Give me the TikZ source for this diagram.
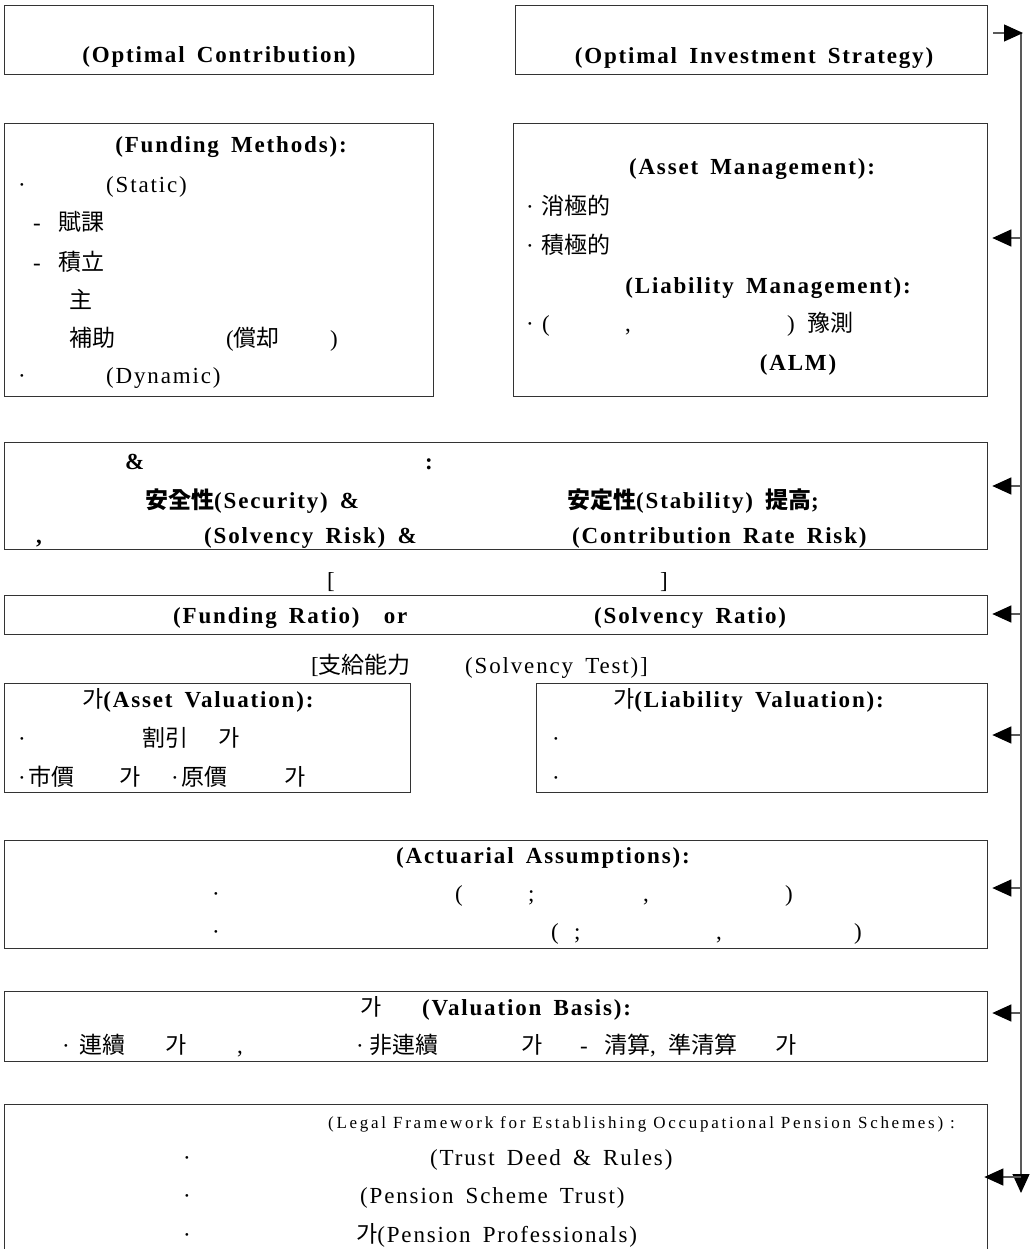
\documentclass[tikz,border=0pt]{standalone}
\usepackage{fontspec}
\setmainfont{Liberation Serif}[LetterSpace=8,WordSpace=1.6]
\newfontfamily\lsfont{Liberation Serif}[LetterSpace=16]
\newfontfamily\cjkfont{Noto Sans CJK KR}
\newcommand{\K}[1]{{\cjkfont\mdseries #1}}
\newcommand{\KB}[1]{{\cjkfont\bfseries #1}}
\newcommand{\fsz}{\fontsize{23pt}{27pt}\selectfont}
\newcommand{\fsm}{\fontsize{17pt}{20pt}\selectfont}
\usetikzlibrary{arrows.meta}
\tikzset{
  box/.style={draw=black!80, line width=1.3pt, inner sep=0pt, anchor=north west},
  t/.style={anchor=base west, inner sep=0pt, font=\fsz},
  tb/.style={t, font=\fsz\bfseries},
  tbc/.style={tb, anchor=base},
  tsm/.style={anchor=base west, inner sep=0pt, font=\fsm\lsfont},
  link/.style={draw=black!65, line width=1.2pt},
  arr/.style={link, -{Triangle[length=19pt,width=17pt,color=black]}},
}
\begin{document}
\begin{tikzpicture}[x=1pt,y=-1pt]
\useasboundingbox (0,0) rectangle (1029,1249);
% boxes
\node[box, minimum width=429pt, minimum height=69pt] (b1) at (4,5) {};
\node[box, minimum width=472pt, minimum height=69pt] (b2) at (515,5) {};
\node[box, minimum width=429pt, minimum height=273pt] (b3) at (4,123) {};
\node[box, minimum width=474pt, minimum height=273pt] (b4) at (513,123) {};
\node[box, minimum width=983pt, minimum height=107pt] (b5) at (4,442) {};
\node[box, minimum width=983pt, minimum height=39pt] (b6) at (4,595) {};
\node[box, minimum width=406pt, minimum height=109pt] (b7) at (4,683) {};
\node[box, minimum width=451pt, minimum height=109pt] (b8) at (536,683) {};
\node[box, minimum width=983pt, minimum height=108pt] (b9) at (4,840) {};
\node[box, minimum width=983pt, minimum height=70pt] (b10) at (4,991) {};
\node[box, minimum width=983pt, minimum height=150pt] (b11) at (4,1104) {};

% box 1, 2
\node[tbc] (t1) at (219,63) {(Optimal Contribution)};
\node[tbc] (t2) at (754,64) {(Optimal Investment Strategy)};

% box 3
\node[tbc] (t3) at (231,153) {(Funding Methods):};
\node[t] (t4) at (18,193) {·};
\node[t] (t5) at (106,193) {(Static)};
\node[t] (t6) at (33,231) {-};
\node[t] (t7) at (58,231) {\K{賦課}};
\node[t] (t8) at (33,270) {-};
\node[t] (t9) at (58,270) {\K{積立}};
\node[t] (t10) at (69,308) {\K{主}};
\node[t] (t11) at (69,346) {\K{補助}};
\node[t] (t12) at (226,346) {(\K{償却}};
\node[t] (t13) at (330,346) {)};
\node[t] (t14) at (18,383) {·};
\node[t] (t15) at (106,383) {(Dynamic)};

% box 4
\node[tbc] (t16) at (752,175) {(Asset Management):};
\node[t] (t17) at (526,215) {·};
\node[t] (t18) at (541,215) {\K{消極的}};
\node[t] (t19) at (526,254) {·};
\node[t] (t20) at (541,254) {\K{積極的}};
\node[tbc] (t21) at (768,293) {(Liability Management):};
\node[t] (t22) at (526,331) {·};
\node[t] (t23) at (542,331) {(};
\node[t] (t24) at (625,331) {,};
\node[t] (t25) at (787,331) {)};
\node[t] (t26) at (807,331) {\K{豫測}};
\node[tbc] (t27) at (798,370) {(ALM)};

% box 5
\node[tb] (t28) at (125,469) {\&};
\node[tb] (t29) at (425,469) {:};
\node[tb] (t30) at (145,508) {\KB{安全性}(Security) \&};
\node[tb] (t31) at (567,508) {\KB{安定性}(Stability) \KB{提高};};
\node[tb] (t32) at (36,543) {,};
\node[tb] (t33) at (204,543) {(Solvency Risk) \&};
\node[tb] (t34) at (572,543) {(Contribution Rate Risk)};

% between 5 and 6
\node[t] (t35) at (327,588) {[};
\node[t] (t36) at (660,588) {]};

% box 6
\node[tb] (t37) at (173,623) {(Funding Ratio) \ or};
\node[tb] (t38) at (594,623) {(Solvency Ratio)};

% solvency test
\node[t] (t39) at (311,673) {[\K{支給能力}};
\node[t] (t40) at (465,673) {(Solvency Test)]};

% box 7
\node[tb] (t41) at (82,707) {\K{가}(Asset Valuation):};
\node[t] (t42) at (18,746) {·};
\node[t] (t43) at (142,746) {\K{割引}};
\node[t] (t44) at (218,746) {\K{가}};
\node[t] (t45) at (18,785) {·};
\node[t] (t46) at (28,785) {\K{市價}};
\node[t] (t47) at (119,785) {\K{가}};
\node[t] (t48) at (171,785) {·};
\node[t] (t49) at (181,785) {\K{原價}};
\node[t] (t50) at (284,785) {\K{가}};

% box 8
\node[tb] (t51) at (613,707) {\K{가}(Liability Valuation):};
\node[t] (t52) at (552,746) {·};
\node[t] (t53) at (552,785) {·};

% box 9
\node[tbc] (t54) at (543,863) {(Actuarial Assumptions):};
\node[t] (t55) at (212,901) {·};
\node[t] (t56) at (455,901) {(};
\node[t] (t57) at (528,901) {;};
\node[t] (t58) at (643,901) {,};
\node[t] (t59) at (785,901) {)};
\node[t] (t60) at (212,939) {·};
\node[t] (t61) at (551,939) {(};
\node[t] (t62) at (574,939) {;};
\node[t] (t63) at (716,939) {,};
\node[t] (t64) at (854,939) {)};

% box 10
\node[t] (t65) at (360,1015) {\K{가}};
\node[tb] (t66) at (422,1015) {(Valuation Basis):};
\node[t] (t67) at (62,1053) {·};
\node[t] (t68) at (79,1053) {\K{連續}};
\node[t] (t69) at (165,1053) {\K{가}};
\node[t] (t70) at (237,1053) {,};
\node[t] (t71) at (356,1053) {·};
\node[t] (t72) at (369,1053) {\K{非連續}};
\node[t] (t73) at (521,1053) {\K{가}};
\node[t] (t74) at (580,1053) {-};
\node[t] (t75) at (604,1053) {\K{清算}, \K{準清算}};
\node[t] (t76) at (775,1053) {\K{가}};

% box 11
\node[tsm] (t77) at (328,1128) {(Legal Framework for Establishing Occupational Pension Schemes) :};
\node[t] (t78) at (183,1165) {·};
\node[t] (t79) at (430,1165) {(Trust Deed \& Rules)};
\node[t] (t80) at (183,1203) {·};
\node[t] (t81) at (360,1203) {(Pension Scheme Trust)};
\node[t] (t82) at (183,1242) {·};
\node[t] (t83) at (356,1242) {\K{가}(Pension Professionals)};

% connectors
\coordinate (sT) at (1021,33);
\coordinate (sB) at (1021,1193);
\coordinate (a0) at (sT -| b2.east);
\draw[arr] (sT) -- (sB);
\draw[arr, shorten <=5pt, shorten >=-2pt] (a0) -- (sT);
\coordinate (s4) at (1021,238);
\coordinate (s5) at (1021,486);
\coordinate (s6) at (1021,614);
\coordinate (s8) at (1021,735);
\coordinate (s9) at (1021,888);
\coordinate (s10) at (1021,1013);
\coordinate (s11) at (1021,1177);
\draw[arr, shorten >=4pt] (s4) -- (s4 -| b4.east);
\draw[arr, shorten >=4pt] (s5) -- (s5 -| b5.east);
\draw[arr, shorten >=4pt] (s6) -- (s6 -| b6.east);
\draw[arr, shorten >=4pt] (s8) -- (s8 -| b8.east);
\draw[arr, shorten >=4pt] (s9) -- (s9 -| b9.east);
\draw[arr, shorten >=4pt] (s10) -- (s10 -| b10.east);
\draw[arr, shorten >=-4pt] (s11) -- (s11 -| b11.east);
\end{tikzpicture}
\end{document}
